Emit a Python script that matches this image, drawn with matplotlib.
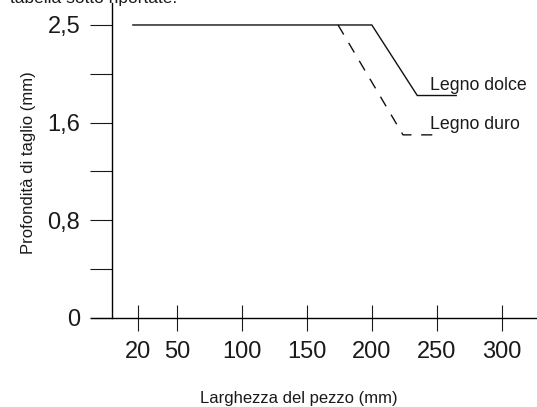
import numpy as np
import matplotlib
matplotlib.use("Agg")
import matplotlib.pyplot as plt
from matplotlib.ticker import FixedLocator, NullFormatter

plt.rcParams['font.family'] = ['Liberation Sans', 'DejaVu Sans']

# Data
width_dolce = [16, 200, 235, 265]
depth_dolce = [2.5, 2.5, 1.85, 1.85]
width_duro = [174, 224, 254]
depth_duro = [2.5, 1.5, 1.5]
xticks = [20, 50, 100, 150, 200, 250, 300]
yticks = [0, 0.8, 1.6, 2.5]
ytick_labels = ["0", "0,8", "1,6", "2,5"]
yminor = [0.4, 1.2, 2.05]

# piecewise scale: labelled values equally spaced
_vals = np.array([0, 0.8, 1.6, 2.5, 3.4])
_pos = np.array([0, 1, 2, 3, 4])
def fwd(v):
    return np.interp(v, _vals, _pos)
def inv(p):
    return np.interp(p, _pos, _vals)

W, H = 537, 407
fig = plt.figure(figsize=(W/100, H/100), dpi=100)
ax = fig.add_axes([91/W, 1-318/H, (537-91)/W, (318-3)/H])
ax.set_yscale('function', functions=(fwd, inv))

ax.plot(width_dolce, depth_dolce, color='#111111', lw=1.0, solid_joinstyle='miter')
ax.plot(width_duro, depth_duro, color='#111111', lw=1.0, dashes=(8, 7))

ax.set_xlim(-16.26, 327.2)
ax.set_ylim(0, inv(3.225))

for s in ['top', 'right']:
    ax.spines[s].set_visible(False)
ax.spines['left'].set_position(('data', 0))
ax.spines['left'].set_linewidth(1.0)
ax.spines['bottom'].set_linewidth(1.0)

ax.set_xticks(xticks)
ax.set_xticklabels([str(x) for x in xticks])
ax.tick_params(axis='x', direction='inout', length=19, width=0.8, pad=7,
               labelsize=17, colors='#1a1a1a')
ax.yaxis.set_major_locator(FixedLocator(yticks))
ax.set_yticklabels(ytick_labels)
ax.yaxis.set_minor_locator(FixedLocator(yminor))
ax.yaxis.set_minor_formatter(NullFormatter())
ax.tick_params(axis='y', which='both', direction='out', length=16, width=0.8, pad=7,
               labelsize=17, colors='#1a1a1a')

ax.set_xlabel('Larghezza del pezzo (mm)', fontsize=12, color='#1a1a1a')
ax.xaxis.set_label_coords((299-91)/(537-91), -(391-318)/(318-3))
ax.set_ylabel('Profondità di taglio (mm)', fontsize=12, color='#1a1a1a')
ax.yaxis.set_label_coords((36-91)/(537-91), (318-163)/(318-3))

ax.text(244.8, inv((318-90)/97.67), 'Legno dolce', fontsize=12.8, color='#1a1a1a', va='baseline', ha='left')
ax.text(244.8, inv((318-129)/97.67), 'Legno duro', fontsize=12.8, color='#1a1a1a', va='baseline', ha='left')

fig.text(10/W, 1-3/H, 'tabella sotto riportate.', fontsize=12.5, color='#1a1a1a', va='baseline', ha='left')

fig.savefig('out.png', dpi=100)
